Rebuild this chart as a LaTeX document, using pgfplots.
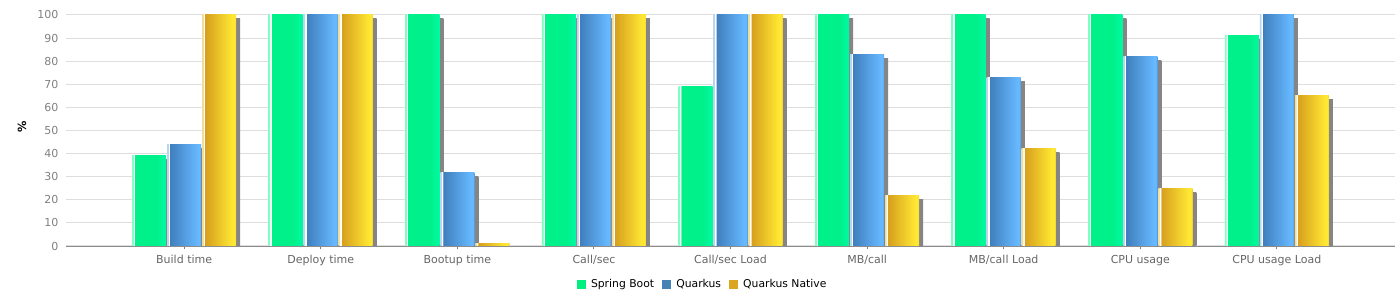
\documentclass[border=0pt]{standalone}
\usepackage{pgfplots}
\pgfplotsset{compat=1.18}
\usepackage{pgfplotstable}
\usepackage{fontspec}
\setmainfont{DejaVu Sans}
\usetikzlibrary{shadows}
\definecolor{gA}{HTML}{00F08A}
\definecolor{gL}{HTML}{80FFC0}
\definecolor{gB}{HTML}{00FAA0}
\definecolor{bA}{HTML}{3F7EBC}
\definecolor{bL}{HTML}{B8D4EE}
\definecolor{bB}{HTML}{66B8FF}
\definecolor{yA}{HTML}{D69E1E}
\definecolor{yL}{HTML}{F2DC9A}
\definecolor{yB}{HTML}{FFE833}
\definecolor{shd}{HTML}{858585}
\definecolor{legG}{HTML}{00F080}
\definecolor{legB}{HTML}{4682B4}
\definecolor{legY}{HTML}{DAA520}
\pgfdeclarehorizontalshading{greenbar}{100bp}{color(0bp)=(gL); color(25bp)=(gL); color(26.6bp)=(gL); color(26.8bp)=(white); color(28.6bp)=(white); color(28.8bp)=(gA); color(60bp)=(gA); color(75bp)=(gB); color(100bp)=(gB)}
\pgfdeclarehorizontalshading{bluebar}{100bp}{color(0bp)=(bL); color(25bp)=(bL); color(26.6bp)=(bL); color(26.8bp)=(white); color(28.6bp)=(white); color(28.8bp)=(bA); color(70bp)=(bB); color(73bp)=(bB); color(75bp)=(bA!60!bB); color(100bp)=(bA!60!bB)}
\pgfdeclarehorizontalshading{yellowbar}{100bp}{color(0bp)=(yL); color(25bp)=(yL); color(26.6bp)=(yL); color(26.8bp)=(white); color(28.6bp)=(white); color(28.8bp)=(yA); color(70bp)=(yB); color(73bp)=(yB); color(75bp)=(yA!40!yB); color(100bp)=(yA!40!yB)}
\pgfplotstableread{
x sb q qn
0 39 44 100
1 100 100 100
2 100 32 1
3 100 100 100
4 69 100 100
5 100 83 22
6 100 73 42
7 100 82 25
8 91 100 65
}\data
\pgfplotsset{layers/barsbelow/.define layer set={axis background,axis grid,main,axis ticks,axis lines,axis tick labels,axis descriptions,axis foreground}{}}
\begin{document}
\begin{tikzpicture}
\begin{axis}[
  name=ax, at={(0,0)}, anchor=south west,
  set layers=barsbelow,
  width=996.75pt, height=173.25pt, scale only axis,
  ybar=0.75pt, bar width=25.5pt,
  xmin=-0.865, xmax=8.865, ymin=0, ymax=100,
  xtick={0,...,8},
  xticklabels={Build time,Deploy time,Bootup time,Call/sec,Call/sec Load,MB/call,MB/call Load,CPU usage,CPU usage Load},
  ytick={0,10,...,100},
  ymajorgrids, grid style={draw=black!13, line width=0.75pt},
  axis x line*=bottom, axis y line*=left,
  x axis line style={draw=black!45, line width=0.9pt, yshift=-0.35pt},
  y axis line style={draw=none},
  tick align=outside, major tick length=2.5pt,
  xtick style={draw=black!50, line width=0.75pt},
  ytick style={draw=none},
  /pgf/number format/assume math mode=true,
  tick label style={font=\fontsize{8.25pt}{10pt}\selectfont},
  xticklabel style={text=black!60, inner sep=0pt, yshift=-4pt},
  yticklabel style={text=black!50, inner sep=0pt, xshift=-3pt},
  ylabel={\%},
  ylabel style={at={(axis description cs:-0.0331,0.515)}, anchor=center, font=\bfseries\fontsize{8.5pt}{10pt}\selectfont},
  legend columns=-1,
  legend style={at={(axis description cs:0.4793,0)}, anchor=center, yshift=-28.5pt, draw=none, fill=none,
    font=\fontsize{8.1pt}{10pt}\selectfont, inner sep=0pt,
    /tikz/every odd column/.append style={column sep=2.2pt},
    /tikz/every even column/.append style={column sep=4pt}},
  clip=true,
  shadowed/.style={drop shadow={shadow xshift=3pt, shadow yshift=-3pt, left color=shd, right color=shd, fill=shd, opacity=1}},
]
\pgfplotsinvokeforeach{0,...,8}{
\addplot[forget plot, bar shift=-26.25pt, draw=none, shading=greenbar, shadowed,
  x filter/.expression={abs(x-#1)<0.1 ? x : nan}] table[x=x,y=sb] {\data};
\addplot[forget plot, bar shift=0pt, draw=none, shading=bluebar, shadowed,
  x filter/.expression={abs(x-#1)<0.1 ? x : nan}] table[x=x,y=q] {\data};
\addplot[forget plot, bar shift=26.25pt, draw=none, shading=yellowbar, shadowed,
  x filter/.expression={abs(x-#1)<0.1 ? x : nan}] table[x=x,y=qn] {\data};
}
\addlegendimage{legend image code/.code={\fill[legG] (0pt,-3pt) rectangle (6pt,3pt);}}
\addlegendentry{Spring Boot}
\addlegendimage{legend image code/.code={\fill[legB] (0pt,-3pt) rectangle (6pt,3pt);}}
\addlegendentry{Quarkus}
\addlegendimage{legend image code/.code={\fill[legY] (0pt,-3pt) rectangle (6pt,3pt);}}
\addlegendentry{Quarkus Native}
\end{axis}
\pgfresetboundingbox
\path (-49.5pt,-45pt) rectangle (1000.5pt,184.5pt);
\end{tikzpicture}
\end{document}
